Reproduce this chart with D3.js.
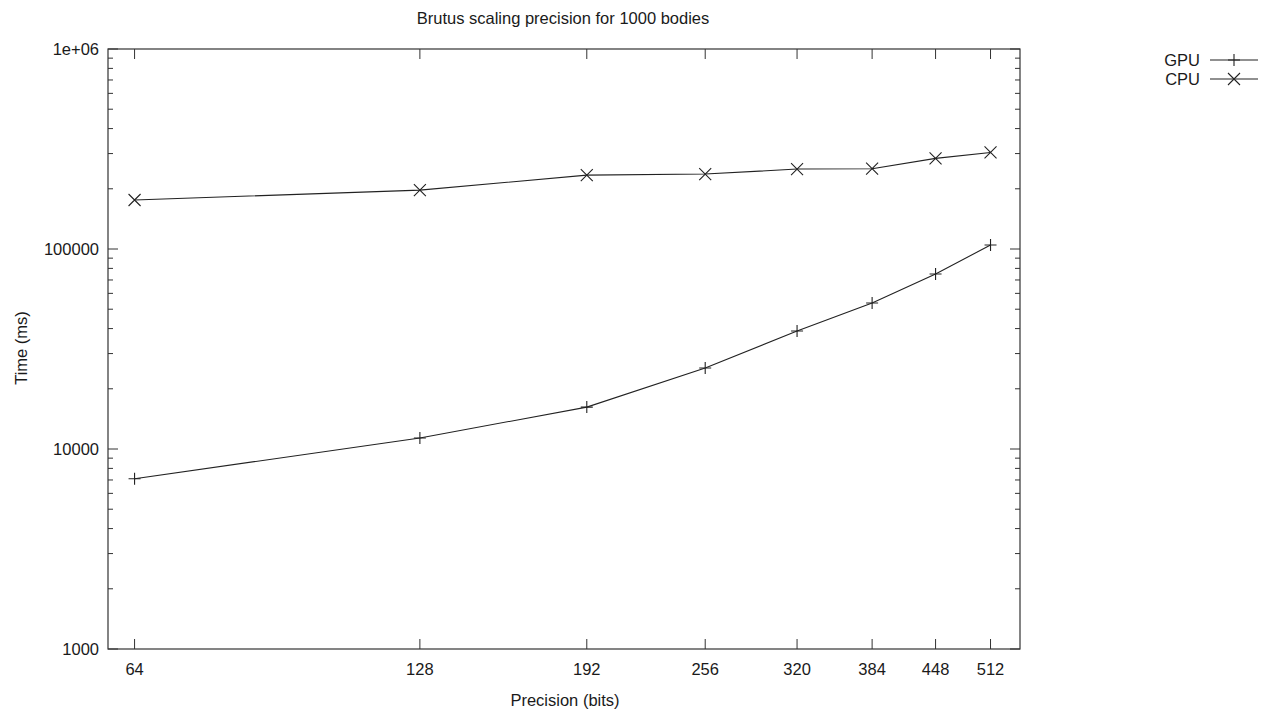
<!DOCTYPE html>
<html>
<head>
<meta charset="utf-8">
<script src="https://d3js.org/d3.v7.min.js"></script>
<style>
  body { margin: 0; background: #fff; }
  text { font-family: "Liberation Sans", Arial, sans-serif; fill: #1a1a1a; }
</style>
</head>
<body>
<svg id="chart" width="1270" height="713"></svg>
<script>
// data
const precision = [64, 128, 192, 256, 320, 384, 448, 512];
const gpuTimes = [7100, 11350, 16200, 25400, 38900, 53700, 75000, 104700];
const cpuTimes = [175800, 197000, 234000, 237000, 251000, 252000, 284000, 304000];
const yTickValues = [1000, 10000, 100000, 1000000];
const yTickLabels = ["1000", "10000", "100000", "1e+06"];

const svg = d3.select('#chart');
const plotLeft = 108, plotRight = 1020, plotTop = 49, plotBottom = 649;
const fontSize = 16.5;

const x = d3.scaleLog().base(2).domain([60, 550]).range([plotLeft, plotRight]);
const y = d3.scaleLog().domain([1000, 1000000]).range([plotBottom, plotTop]);

const axisColor = '#333';

// minor y ticks
const minor = [];
for (let e = 3; e < 6; e++) for (let m = 2; m <= 9; m++) minor.push(m * Math.pow(10, e));

const g = svg.append('g');

minor.forEach(v => {
  g.append('line').attr('x1', plotLeft).attr('x2', plotLeft + 5).attr('y1', y(v)).attr('y2', y(v))
    .attr('stroke', axisColor).attr('stroke-width', 1);
  g.append('line').attr('x1', plotRight).attr('x2', plotRight - 5).attr('y1', y(v)).attr('y2', y(v))
    .attr('stroke', axisColor).attr('stroke-width', 1);
});

yTickValues.forEach((v, i) => {
  g.append('line').attr('x1', plotLeft).attr('x2', plotLeft + 10).attr('y1', y(v)).attr('y2', y(v))
    .attr('stroke', axisColor).attr('stroke-width', 1);
  g.append('line').attr('x1', plotRight).attr('x2', plotRight - 10).attr('y1', y(v)).attr('y2', y(v))
    .attr('stroke', axisColor).attr('stroke-width', 1);
  g.append('text').attr('x', plotLeft - 9).attr('y', y(v)).attr('dy', '0.35em')
    .attr('text-anchor', 'end').attr('font-size', fontSize).text(yTickLabels[i]);
});

precision.forEach(v => {
  g.append('line').attr('x1', x(v)).attr('x2', x(v)).attr('y1', plotBottom).attr('y2', plotBottom - 10)
    .attr('stroke', axisColor).attr('stroke-width', 1);
  g.append('line').attr('x1', x(v)).attr('x2', x(v)).attr('y1', plotTop).attr('y2', plotTop + 10)
    .attr('stroke', axisColor).attr('stroke-width', 1);
  g.append('text').attr('x', x(v)).attr('y', plotBottom + 26)
    .attr('text-anchor', 'middle').attr('font-size', fontSize).text(v);
});

// frame
g.append('rect').attr('x', plotLeft).attr('y', plotTop)
  .attr('width', plotRight - plotLeft).attr('height', plotBottom - plotTop)
  .attr('fill', 'none').attr('stroke', axisColor).attr('stroke-width', 1.2);

// titles
svg.append('text').attr('x', 563).attr('y', 24).attr('text-anchor', 'middle')
  .attr('font-size', fontSize).text('Brutus scaling precision for 1000 bodies');
svg.append('text').attr('x', 565).attr('y', 706).attr('text-anchor', 'middle')
  .attr('font-size', fontSize).text('Precision (bits)');
svg.append('text').attr('transform', 'translate(27,348) rotate(-90)').attr('text-anchor', 'middle')
  .attr('font-size', fontSize).text('Time (ms)');

const line = d3.line().x(d => x(d[0])).y(d => y(d[1]));
const lineColor = '#222';

function plus(sel, cx, cy) {
  sel.append('path').attr('d', `M${cx - 6},${cy}H${cx + 6}M${cx},${cy - 6}V${cy + 6}`)
    .attr('stroke', lineColor).attr('stroke-width', 1.1).attr('fill', 'none');
}
function cross(sel, cx, cy) {
  sel.append('path').attr('d', `M${cx - 6},${cy - 6}L${cx + 6},${cy + 6}M${cx - 6},${cy + 6}L${cx + 6},${cy - 6}`)
    .attr('stroke', lineColor).attr('stroke-width', 1.1).attr('fill', 'none');
}

const series = [
  { name: 'GPU', values: gpuTimes, marker: plus },
  { name: 'CPU', values: cpuTimes, marker: cross }
];

series.forEach((s, si) => {
  const pts = precision.map((p, i) => [p, s.values[i]]);
  svg.append('path').attr('d', line(pts)).attr('fill', 'none')
    .attr('stroke', lineColor).attr('stroke-width', 1.1);
  const mg = svg.append('g');
  pts.forEach(d => s.marker(mg, x(d[0]), y(d[1])));

  // legend
  const ly = 60 + si * 19;
  svg.append('text').attr('x', 1200).attr('y', ly).attr('dy', '0.35em').attr('text-anchor', 'end')
    .attr('font-size', fontSize).text(s.name);
  svg.append('line').attr('x1', 1210).attr('x2', 1258).attr('y1', ly).attr('y2', ly)
    .attr('stroke', lineColor).attr('stroke-width', 1.1);
  s.marker(svg, 1234, ly);
});
</script>
</body>
</html>
